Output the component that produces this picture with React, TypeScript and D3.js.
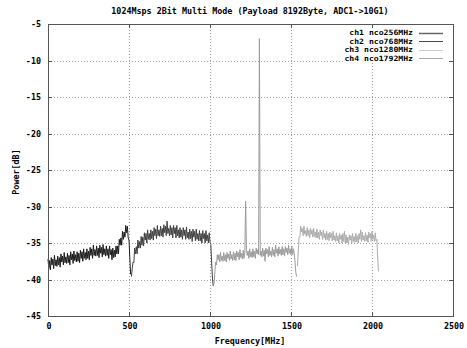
import React from 'react';
import * as d3 from 'd3';

const title = '1024Msps 2Bit Multi Mode (Payload 8192Byte, ADC1->10G1)';
const channelNames = ['ch1 nco256MHz', 'ch2 nco768MHz', 'ch3 nco1280MHz', 'ch4 nco1792MHz'];
const startFreq = [0, 515, 1025, 1540]; // MHz, first sample of each trace
const stepMHz = 5;

const ch1Power = [
  -37.2, -38.5, -37.4, -38.7, -37.0, -38.0, -37.2, -38.5, -36.7, -38.1,
  -37.3, -38.2, -36.8, -38.0, -37.0, -38.3, -36.5, -37.6, -36.8, -38.0,
  -36.3, -37.7, -36.9, -37.8, -36.4, -37.7, -36.7, -38.0, -36.2, -37.3,
  -36.5, -37.8, -36.1, -37.4, -36.6, -37.6, -36.2, -37.5, -36.4, -37.7,
  -36.0, -37.1, -36.2, -37.5, -35.8, -37.1, -36.3, -37.3, -35.8, -37.1,
  -36.1, -37.3, -35.6, -36.7, -35.8, -37.1, -35.3, -36.7, -35.9, -36.8,
  -35.4, -36.7, -35.7, -37.0, -35.3, -36.4, -35.6, -36.9, -35.2, -36.6,
  -35.8, -36.8, -35.4, -36.7, -35.8, -37.1, -35.4, -36.6, -35.9, -37.3,
  -35.7, -37.0, -36.0, -36.9, -35.4, -36.5, -35.4, -36.5, -34.5, -35.3,
  -34.3, -35.3, -33.4, -34.5, -33.5, -34.2, -32.6, -33.6, -32.7, -34.3,
  -34.6, -37.0, -39.3,
];

const ch2Power = [
  -39.6, -38.5, -37.6, -37.7, -35.7, -36.5, -35.5, -36.5, -34.6, -35.7,
  -34.8, -35.7, -34.1, -35.3, -34.2, -35.4, -33.6, -34.6, -33.7, -35.0,
  -33.2, -34.5, -33.7, -34.6, -33.2, -34.4, -33.4, -34.6, -32.9, -34.0,
  -33.1, -34.4, -32.6, -34.0, -33.2, -34.1, -32.7, -34.0, -33.0, -34.2,
  -32.5, -33.6, -32.7, -34.0, -32.0, -33.7, -33.0, -34.0, -32.6, -33.9,
  -32.9, -34.3, -32.6, -33.7, -32.9, -34.3, -32.6, -34.0, -33.2, -34.3,
  -32.9, -34.2, -33.2, -34.5, -32.9, -34.0, -33.2, -34.5, -32.8, -34.3,
  -33.5, -34.5, -33.1, -34.4, -33.4, -34.8, -33.1, -34.2, -33.4, -34.7,
  -33.1, -34.5, -33.7, -34.7, -33.3, -34.7, -33.7, -35.0, -33.3, -34.4,
  -33.7, -35.0, -33.3, -34.7, -33.9, -35.0, -33.6, -34.9, -35.2, -37.6,
  -39.8, -40.9,
];

const ch3Power = [
  -40.6, -38.9, -37.6, -38.0, -36.6, -37.3, -36.6, -37.6, -36.3, -37.4,
  -36.8, -37.5, -36.3, -37.4, -36.6, -37.6, -36.3, -37.1, -36.5, -37.4,
  -36.1, -37.2, -36.6, -37.4, -36.2, -37.3, -36.4, -37.4, -36.1, -36.9,
  -36.3, -37.3, -35.9, -37.0, -36.4, -37.2, -36.0, -37.1, -36.3, -29.3,
  -35.9, -36.7, -36.1, -37.1, -35.8, -36.9, -36.2, -37.0, -35.8, -36.9,
  -36.1, -37.1, -35.7, -36.5, -35.9, -36.6, -7.0, -36.7, -36.1, -36.9,
  -35.7, -36.8, -36.0, -37.5, -35.7, -36.5, -35.9, -36.9, -35.5, -36.7,
  -36.1, -36.9, -35.6, -36.7, -35.9, -36.9, -35.3, -36.4, -35.8, -36.8,
  -35.5, -36.5, -35.9, -36.7, -35.5, -36.6, -35.8, -36.8, -35.5, -36.3,
  -35.7, -36.6, -35.3, -36.4, -35.8, -36.6, -35.4, -36.6, -35.8, -36.4,
  -37.6, -39.1, -39.6,
];

const ch4Power = [
  -38.2, -36.1, -34.2, -34.2, -32.7, -33.5, -33.0, -34.0, -32.7, -33.8,
  -33.3, -34.1, -32.9, -34.0, -33.2, -34.3, -33.0, -33.8, -33.2, -34.2,
  -33.0, -34.1, -33.5, -34.3, -33.1, -34.3, -33.5, -34.5, -33.2, -34.0,
  -33.5, -34.5, -33.2, -34.3, -33.7, -34.6, -33.4, -34.5, -33.7, -34.7,
  -33.5, -34.3, -33.7, -34.7, -33.4, -34.6, -34.0, -34.8, -33.6, -34.7,
  -34.0, -35.0, -33.7, -34.5, -33.9, -35.0, -33.7, -34.8, -33.4, -35.0,
  -33.9, -35.0, -34.2, -35.2, -33.9, -34.6, -34.0, -35.0, -33.7, -34.8,
  -34.1, -34.9, -33.7, -34.8, -34.0, -35.0, -33.7, -34.5, -33.2, -34.8,
  -33.5, -34.6, -34.0, -34.8, -33.6, -34.7, -33.9, -34.9, -33.5, -34.3,
  -33.7, -34.7, -33.4, -34.5, -33.9, -34.8, -33.6, -34.7, -34.5, -36.9,
  -38.9,
];

const seriesPower = [ch1Power, ch2Power, ch3Power, ch4Power];
const seriesColors = ['#1c1c1c', '#404040', '#9a9a9a', '#acacac'];
const legendColors = ['#666666', '#4a4a4a', '#cccccc', '#aaaaaa'];

const xTicks = [0, 500, 1000, 1500, 2000, 2500];
const yTicks = [-5, -10, -15, -20, -25, -30, -35, -40, -45];

const W = 467;
const H = 348;
const plot = { left: 48, right: 453, top: 24, bottom: 316 };
const font = '"DejaVu Sans Mono", monospace';

export default function App() {
  const x = d3.scaleLinear().domain([0, 2500]).range([plot.left, plot.right]);
  const y = d3.scaleLinear().domain([-45, -5]).range([plot.bottom, plot.top]);

  const lineFor = (start: number) =>
    d3.line<number>()
      .x((_, i) => x(start + i * stepMHz))
      .y(d => y(d));

  const tick = 4;
  const py = (v: number) => Math.round(y(v)) + 0.5;

  return (
    <svg width={W} height={H} style={{ position: 'absolute', left: 0, top: 0, background: '#fff' }}
      fontFamily={font} fontWeight="bold" fontSize={8.4}>
      <rect width={W} height={H} fill="#fff" />

      {/* grid */}
      <g stroke="#a0a0a0" strokeWidth={1} strokeDasharray="1,2">
        {xTicks.slice(1, -1).map(t => (
          <line key={'gx' + t} x1={x(t) + 0.5} x2={x(t) + 0.5} y1={plot.top} y2={plot.bottom} />
        ))}
        {yTicks.slice(1, -1).map(t => (
          <line key={'gy' + t} x1={plot.left} x2={plot.right} y1={py(t)} y2={py(t)} />
        ))}
      </g>

      {/* key background */}
      <rect x={345} y={28} width={106} height={34} fill="#fff" />

      {/* traces */}
      <g fill="none" strokeWidth={1}>
        {seriesPower.map((p, i) => (
          <path key={i} d={lineFor(startFreq[i])(p) || ''} stroke={seriesColors[i]} />
        ))}
      </g>

      {/* border and ticks */}
      <rect x={plot.left + 0.5} y={plot.top + 0.5} width={plot.right - plot.left} height={plot.bottom - plot.top}
        fill="none" stroke="#555" strokeWidth={1} />
      <g stroke="#555" strokeWidth={1}>
        {xTicks.slice(1, -1).map(t => (
          <g key={'tx' + t}>
            <line x1={x(t) + 0.5} x2={x(t) + 0.5} y1={plot.bottom} y2={plot.bottom - tick} />
            <line x1={x(t) + 0.5} x2={x(t) + 0.5} y1={plot.top} y2={plot.top + tick} />
          </g>
        ))}
        {yTicks.slice(1, -1).map(t => (
          <g key={'ty' + t}>
            <line x1={plot.left} x2={plot.left + tick} y1={py(t)} y2={py(t)} />
            <line x1={plot.right} x2={plot.right - tick} y1={py(t)} y2={py(t)} />
          </g>
        ))}
      </g>

      {/* tick labels */}
      <g fill="#000">
        {xTicks.map(t => (
          <text key={'lx' + t} x={x(t) + 1} y={329} textAnchor="middle">{t}</text>
        ))}
        {yTicks.map(t => (
          <text key={'ly' + t} x={41} y={y(t) + 3} textAnchor="end">{t}</text>
        ))}
      </g>

      {/* titles */}
      <text x={250} y={14} textAnchor="middle">{title}</text>
      <text x={250} y={344} textAnchor="middle">Frequency[MHz]</text>
      <text transform={`translate(19,172) rotate(-90)`} textAnchor="middle">Power[dB]</text>

      {/* key */}
      {channelNames.map((name, i) => {
        const cy = 32.5 + i * 8.6;
        return (
          <g key={name}>
            <text x={413} y={cy + 2.7} textAnchor="end" fontSize={7.3}
              textLength={name.length * 4.9} lengthAdjust="spacingAndGlyphs">{name}</text>
            <line x1={419} x2={443} y1={Math.round(cy) + 0.5} y2={Math.round(cy) + 0.5}
              stroke={legendColors[i]} strokeWidth={i === 0 ? 1.5 : 1} />
          </g>
        );
      })}
    </svg>
  );
}
